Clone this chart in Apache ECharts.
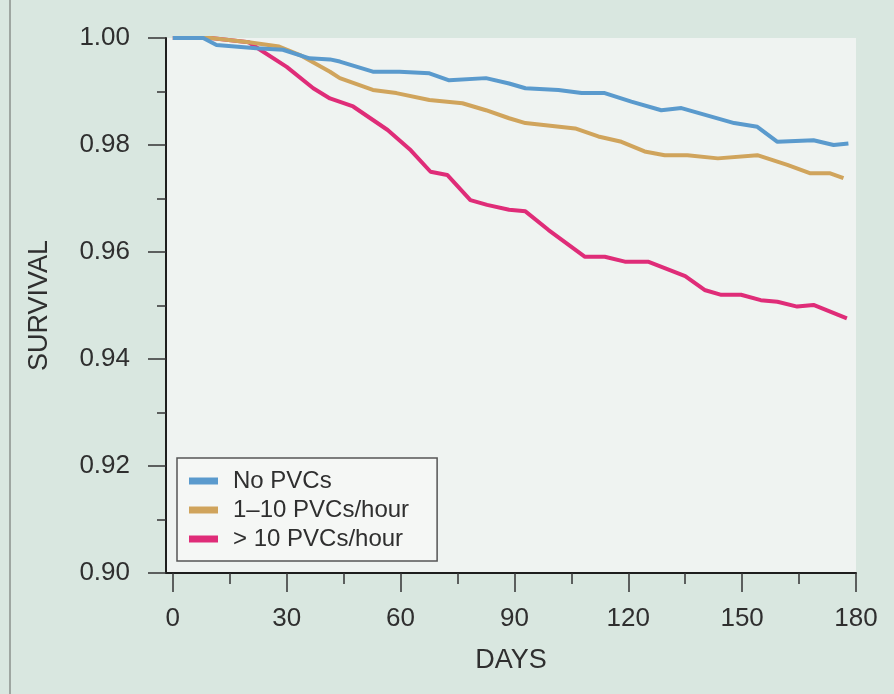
<!DOCTYPE html>
<html>
<head>
<meta charset="utf-8">
<script src="https://cdn.jsdelivr.net/npm/echarts@6/dist/echarts.min.js"></script>
<style>
html,body{margin:0;padding:0;background:#d9e7e0;}
#c{width:894px;height:694px;}
</style>
</head>
<body>
<div id="c"></div>
<script>
// ---- data ----
var seriesNames = ['No PVCs', '1\u201310 PVCs/hour', '> 10 PVCs/hour'];

var daysNo = [0, 8, 11.5, 22, 29, 36, 41.4, 44, 52.7, 59.7, 67.6, 72.8, 82.5, 88.6, 92.9, 101.6, 107.7, 113.8, 120.8, 128.7, 134, 147.9, 154, 159.3, 168.8, 174.1, 178];
var survNo = [1.000, 1.000, 0.9987, 0.9981, 0.9978, 0.9962, 0.9960, 0.9956, 0.9937, 0.9937, 0.9934, 0.9921, 0.9925, 0.9915, 0.9906, 0.9903, 0.9897, 0.9897, 0.9881, 0.9865, 0.9869, 0.9841, 0.9834, 0.9806, 0.9809, 0.9800, 0.9803];

var daysLow = [0, 10, 20, 28, 33.5, 41.4, 44, 52.7, 58.9, 67.6, 76.3, 82.5, 88.6, 92.9, 106, 112.1, 118.2, 124.3, 129.6, 135.6, 143.6, 154, 161.9, 168, 173.2, 176.7];
var survLow = [1.000, 1.000, 0.9992, 0.9984, 0.9968, 0.9937, 0.9925, 0.9903, 0.9897, 0.9884, 0.9878, 0.9865, 0.9850, 0.9841, 0.9831, 0.9816, 0.9806, 0.9788, 0.9781, 0.9781, 0.9775, 0.9781, 0.9763, 0.9747, 0.9747, 0.9738];

var daysHigh = [0, 10, 20, 23, 30, 37, 41.4, 47.5, 56.6, 62.7, 67.9, 72.3, 78.4, 82.8, 88.6, 92.9, 99, 108.6, 113.8, 119.1, 125.2, 129.6, 135, 140.1, 144.5, 149.7, 154.9, 159.3, 164.5, 168.8, 177.6];
var survHigh = [1.000, 1.000, 0.9992, 0.9978, 0.9946, 0.9906, 0.9887, 0.9872, 0.9828, 0.9790, 0.9750, 0.9744, 0.9697, 0.9688, 0.9679, 0.9676, 0.9641, 0.9591, 0.9591, 0.9582, 0.9582, 0.9570, 0.9555, 0.9529, 0.9520, 0.9520, 0.9510, 0.9507, 0.9498, 0.9501, 0.9476];

var xMajorTicks = [0, 30, 60, 90, 120, 150, 180];
var xMinorTicks = [15, 45, 75, 105, 135, 165];

var xTitle = 'DAYS';
var yTitle = 'SURVIVAL';

// ---- chart ----
function pairs(xs, ys) {
  return xs.map(function (x, i) { return [x, ys[i]]; });
}

var FONT = "'Liberation Sans', Arial, Helvetica, sans-serif";
var TXT = '#2f2f2f';
var colors = ['#5a9acd', '#d0a45c', '#df2c78'];

var chart = echarts.init(document.getElementById('c'), null, { renderer: 'canvas' });

var option = {
  backgroundColor: '#d9e7e0',
  animation: false,
  textStyle: { fontFamily: FONT },
  graphic: [{
    type: 'line',
    shape: { x1: 10, y1: 0, x2: 10, y2: 694 },
    style: { stroke: '#8a918d', lineWidth: 1.5 },
    silent: true
  }],
  grid: {
    left: 166, right: 38, top: 38, bottom: 121,
    show: true, backgroundColor: '#eff3f1', borderWidth: 0
  },
  legend: {
    orient: 'vertical',
    left: 177, top: 458,
    padding: [11, 28, 10, 12],
    itemGap: 5,
    itemWidth: 29, itemHeight: 7,
    icon: 'rect',
    backgroundColor: '#f5f7f5',
    borderColor: '#555',
    borderWidth: 1.5,
    borderRadius: 0,
    textStyle: { fontFamily: FONT, fontSize: 24, color: TXT, padding: [0, 0, 0, 10] },
    data: seriesNames
  },
  xAxis: [{
    type: 'value',
    position: 'bottom',
    min: -1.8, max: 180,
    name: xTitle,
    nameLocation: 'middle',
    nameGap: 74,
    nameTextStyle: { fontFamily: FONT, fontSize: 27, color: TXT },
    axisLine: { show: true, onZero: false, lineStyle: { color: '#1e1e1e', width: 2 } },
    axisTick: { show: true, customValues: xMajorTicks, length: 19, lineStyle: { color: '#333', width: 1.5 } },
    axisLabel: { customValues: xMajorTicks, margin: 33, fontFamily: FONT, fontSize: 26, color: TXT },
    splitLine: { show: false }
  }, {
    type: 'value',
    position: 'bottom',
    min: -1.8, max: 180,
    axisLine: { show: false, onZero: false },
    axisTick: { show: true, customValues: xMinorTicks, length: 11, lineStyle: { color: '#333', width: 1.5 } },
    axisLabel: { show: false },
    splitLine: { show: false }
  }],
  yAxis: {
    type: 'value',
    min: 0.9, max: 1.0, interval: 0.02,
    name: yTitle,
    nameLocation: 'middle',
    nameGap: 113,
    nameTextStyle: { fontFamily: FONT, fontSize: 27, color: TXT },
    axisLine: { show: true, onZero: false, lineStyle: { color: '#1e1e1e', width: 2 } },
    axisTick: { show: true, length: 18, lineStyle: { color: '#333', width: 1.5 } },
    minorTick: { show: true, splitNumber: 2, length: 9, lineStyle: { color: '#333', width: 1.5 } },
    axisLabel: {
      margin: 36, fontFamily: FONT, fontSize: 26, color: TXT,
      formatter: function (v) { return v.toFixed(2); }
    },
    splitLine: { show: false },
    minorSplitLine: { show: false }
  },
  series: [{
    name: seriesNames[0], type: 'line', showSymbol: false, z: 4,
    itemStyle: { color: colors[0] },
    lineStyle: { color: colors[0], width: 4 },
    data: pairs(daysNo, survNo)
  }, {
    name: seriesNames[1], type: 'line', showSymbol: false, z: 3,
    itemStyle: { color: colors[1] },
    lineStyle: { color: colors[1], width: 4 },
    data: pairs(daysLow, survLow)
  }, {
    name: seriesNames[2], type: 'line', showSymbol: false, z: 2,
    itemStyle: { color: colors[2] },
    lineStyle: { color: colors[2], width: 4 },
    data: pairs(daysHigh, survHigh)
  }]
};
chart.setOption(option);
</script>
</body>
</html>
